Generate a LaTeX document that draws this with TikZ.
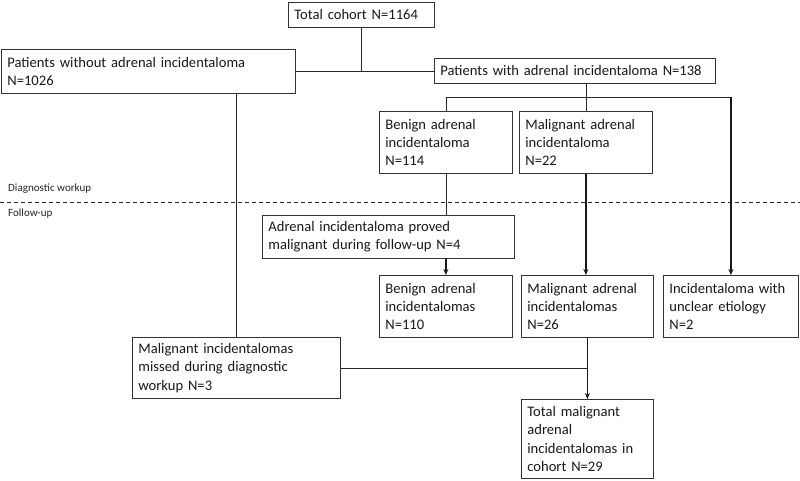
\documentclass[tikz,border=0pt]{standalone}
\usepackage{fontspec}
\setmainfont{Carlito}
\usetikzlibrary{arrows.meta}
\newlength\calwa
\newlength\calwb
\begin{document}
\settowidth\calwa{\fontsize{10}{12}\selectfont Patients with adrenal incidentaloma N=138}%
\settowidth\calwb{\fontsize{10}{12}\selectfont Diagnostic workup}%
\pgfmathsetmacro\fsmain{10*255/\calwa}%
\pgfmathsetmacro\fslab{10*83/\calwb}%
\begin{tikzpicture}[x=1pt,y=-1pt,
  box/.style={draw=black!80, line width=0.8pt, anchor=north west, align=left,
    inner xsep=6pt, inner ysep=0pt, font=\fontsize{\fsmain}{18.3}\selectfont, text=black!90},
  thin/.style={draw=black!85, line width=0.8pt},
  thick/.style={draw=black!90, line width=1.7pt},
  arr/.style={-{Stealth[length=6pt,width=5pt]}},
  lab/.style={anchor=west, font=\fontsize{\fslab}{13}\selectfont, text=black!85, inner sep=0pt}]
\useasboundingbox (0,0) rectangle (800,480);
\fill[white] (0,0) rectangle (800,480);

\node[box, text width=134pt, minimum height=25pt] (tc) at (288,2) {Total~cohort~N=1164};
\node[box, text width=282pt, minimum height=44pt] (pw) at (1,49) {Patients~without~adrenal~incidentaloma\\N=1026};
\node[box, text width=269pt, minimum height=25pt] (pa) at (434,58) {Patients~with~adrenal~incidentaloma~N=138};
\node[box, text width=121pt, minimum height=62pt] (ben) at (379,111) {Benign~adrenal\\incidentaloma\\N=114};
\node[box, text width=121pt, minimum height=62pt] (mal) at (519,111) {Malignant~adrenal\\incidentaloma\\N=22};
\node[box, text width=240pt, minimum height=43pt] (prov) at (262,215) {Adrenal~incidentaloma~proved\\malignant~during~follow-up~N=4};
\node[box, text width=121pt, minimum height=62pt] (bi) at (379,275) {Benign~adrenal\\incidentalomas\\N=110};
\node[box, text width=120pt, minimum height=62pt] (mi) at (521,275) {Malignant~adrenal\\incidentalomas\\N=26};
\node[box, text width=123pt, minimum height=62pt] (unc) at (663,275) {Incidentaloma~with\\unclear~etiology\\N=2};
\node[box, text width=196pt, minimum height=61pt] (mis) at (132,337) {Malignant~incidentalomas\\missed~during~diagnostic\\workup~N=3};
\node[box, text width=120pt, minimum height=79pt] (tm) at (521,399) {Total~malignant\\adrenal\\incidentalomas~in\\cohort~N=29};

% dashed separator
\coordinate (dl) at (0,202);
\coordinate (dr) at (800,202);
\draw[black!85, line width=0.8pt, dash pattern=on 4pt off 3pt] (dl) -- (dr);
\node[lab] (dw) at (8,189) {Diagnostic workup};
\node[lab] (fu) at (8,214) {Follow-up};

% connectors
\draw[thin] (tc.south) -- (tc.south |- pw.east);
\draw[thin] (pw.east) -- (pw.east -| pa.west);
\coordinate (j) at (mal.north |- 0,97);
\coordinate (jl) at (ben.north |- j);
\coordinate (jr) at (unc.north |- j);
\draw[thin] (mal.north |- pa.south) -- (mal.north);
\draw[thin] (jl) -- (jr);
\draw[thin] (jl) -- (ben.north);
\draw[thick, arr] (jr) -- (unc.north);
\draw[thin] (ben.south) -- (ben.south |- prov.north);
\draw[thick, arr] (ben.south |- prov.south) -- (bi.north);
\draw[thick, arr] (mal.south) -- (mal.south |- mi.north);
\draw[thick, arr] (mi.south) -- (mi.south |- tm.north);
\draw[thin] (mis.east) -- (mi.south |- mis.east);
\draw[thin] (mis.north |- pw.south) -- (mis.north);
\end{tikzpicture}
\end{document}
